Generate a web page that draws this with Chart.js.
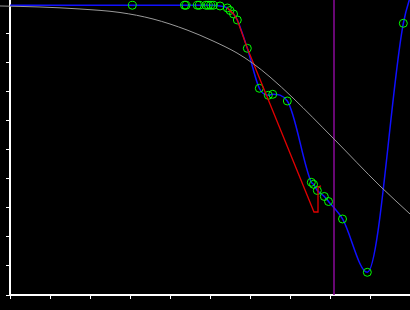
<!DOCTYPE html>
<html>
<head>
<meta charset="utf-8">
<script src="https://cdn.jsdelivr.net/npm/chart.js@4/dist/chart.umd.min.js"></script>
<style>
  html, body { margin: 0; padding: 0; background: #000; }
  #wrap { width: 410px; height: 310px; }
</style>
</head>
<body>
<div id="wrap"><canvas id="chart" width="410" height="310"></canvas></div>
<script>
const sampleX = [0, 3.058, 4.363, 4.40, 4.683, 4.733, 4.90, 4.958, 5.018, 5.083, 5.25, 5.433, 5.5, 5.588, 5.683,
	5.933, 6.233, 6.458, 6.568, 6.933, 7.533, 7.588, 7.683, 7.858, 7.963, 8.313, 8.933, 9.833, 10.1];
const sampleY = [9.99, 9.99, 9.99, 9.99, 9.99, 9.99, 9.99, 9.99, 9.99, 9.99, 9.966, 9.897, 9.81, 9.69, 9.483,
	8.507, 7.128, 6.886, 6.921, 6.69, 3.886, 3.817, 3.603, 3.397, 3.224, 2.621, 0.783, 9.369, 10.69];

// red step-like path
const redX = [5.433, 5.5, 5.588, 5.683, 5.933, 7.6, 7.7, 7.7, 7.775];
const redY = [9.897, 9.81, 9.69, 9.483, 8.507, 2.862, 2.862, 3.724, 3.759];

// grey reference curve
const greyX = [-0.25, 0.75, 1.75, 2.75, 3.575, 4.425, 5.075, 5.675, 6.075, 6.5, 7.075, 8.075, 9.25, 10];
const greyY = [9.966, 9.931, 9.862, 9.741, 9.517, 9.138, 8.759, 8.345, 7.983, 7.517, 6.793, 5.414, 3.759, 2.793];

// purple marker line
const markerX = 8.1;
const yTop = 10.172;

const toPts = (xs, ys) => xs.map((x, i) => ({x: x, y: ys[i]}));

const blueRadius = sampleX.map((x, i) => (i === 0 || i === sampleX.length - 1) ? 0 : 4);

new Chart(document.getElementById('chart').getContext('2d'), {
	type: 'line',
	data: {
		datasets: [
			{
				data: toPts(greyX, greyY),
				borderColor: '#9a9a9a',
				borderWidth: 1,
				pointRadius: 0,
				cubicInterpolationMode: 'monotone',
				clip: false
			},
			{
				data: [{x: markerX, y: 0}, {x: markerX, y: yTop}],
				borderColor: '#8a0a9a',
				borderWidth: 1.5,
				pointRadius: 0
			},
			{
				data: toPts(redX, redY),
				borderColor: '#e00000',
				borderWidth: 1.3,
				pointRadius: 0,
				tension: 0
			},
			{
				data: toPts(sampleX, sampleY),
				borderColor: '#1010ff',
				borderWidth: 1.5,
				cubicInterpolationMode: 'monotone',
				pointRadius: blueRadius,
				pointBorderColor: '#00ff00',
				pointBackgroundColor: 'rgba(0,0,0,0)',
				pointBorderWidth: 1
			}
		]
	},
	options: {
		responsive: false,
		animation: false,
		layout: {padding: 0, autoPadding: false},
		plugins: {legend: {display: false}, tooltip: {enabled: false}},
		scales: {
			x: {
				type: 'linear',
				min: 0,
				max: 10,
				ticks: {display: false, stepSize: 1},
				grid: {drawOnChartArea: false, drawTicks: true, tickLength: 4, color: '#fff'},
				border: {color: '#fff', width: 2},
				afterFit: (scale) => { scale.height = 15; }
			},
			y: {
				type: 'linear',
				min: 0,
				max: yTop,
				ticks: {display: false, stepSize: 1},
				grid: {drawOnChartArea: false, drawTicks: true, tickLength: 4, color: '#fff'},
				border: {color: '#fff', width: 2},
				afterBuildTicks: (scale) => { scale.ticks = scale.ticks.filter(t => Number.isInteger(t.value)); },
				afterFit: (scale) => { scale.width = 10; }
			}
		}
	}
});
</script>
</body>
</html>
